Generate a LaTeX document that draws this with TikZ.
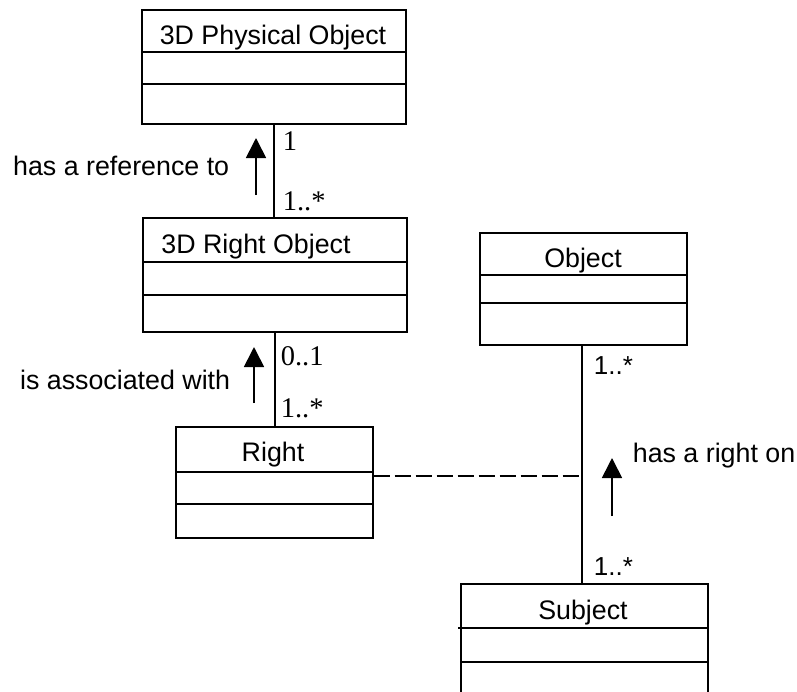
\documentclass[tikz,border=0pt]{standalone}
\usepackage{fontspec}
\setmainfont{Liberation Sans}
\newfontfamily\serifnum{Liberation Serif}
\usetikzlibrary{arrows.meta}
\begin{document}
\begin{tikzpicture}[x=1pt,y=-1pt,line width=1.7pt,
  cls/.style={draw,rectangle,inner sep=0pt,anchor=north west},
  lbl/.style={font=\fontsize{26.8}{30}\selectfont,inner sep=0pt,anchor=base},
  mult/.style={font=\serifnum\fontsize{28.5}{30}\selectfont,inner sep=0pt,anchor=base west},
  smult/.style={font=\fontsize{26}{30}\selectfont,inner sep=0pt,anchor=base west},
  dirarrow/.style={-{Triangle[length=20pt,width=20pt]},line width=1.7pt},
  assoc/.style={line width=1.7pt},
  dashassoc/.style={line width=1.7pt,dash pattern=on 16pt off 5pt}]
\clip (0,0) rectangle (797,691);
\fill[white] (0,0) rectangle (797,691);
% 3D Physical Object
\node[cls,minimum width=264pt,minimum height=114pt] (po) at (141,9) {};
\draw (141,52) -- (405,52);
\draw (141,84) -- (407,84);
\node[lbl] (potitle) at (273,44) {3D Physical Object};
% 3D Right Object
\node[cls,minimum width=264pt,minimum height=114pt] (ro) at (142,217) {};
\draw (142,262) -- (406,262);
\draw (142,295) -- (406,295);
\node[lbl] (rotitle) at (256,253) {3D Right Object};
% Right
\node[cls,minimum width=197pt,minimum height=111pt] (right) at (175,426) {};
\draw (175,472) -- (372,472);
\draw (175,504) -- (372,504);
\node[lbl] (righttitle) at (273,461) {Right};
% Object
\node[cls,minimum width=207pt,minimum height=112pt] (obj) at (479,232) {};
\draw (479,275) -- (686,275);
\draw (479,303) -- (687,303);
\node[lbl] (objtitle) at (583,267) {Object};
% Subject (cut by the lower edge)
\node[cls,minimum width=247pt,minimum height=140pt] (subj) at (460,583) {};
\draw (458,628) -- (707,628);
\draw (460,662) -- (707,662);
\node[lbl] (subjtitle) at (583,619) {Subject};
% associations
\draw[assoc] (po.south) -- (po.south |- ro.north);
\draw[assoc] (ro.south) -- (ro.south |- right.north);
\coordinate (ot) at (582,344);
\coordinate (sb) at (582,583);
\coordinate (mid) at (582,476);
\draw[assoc] (ot) -- (sb);
\draw[dashassoc] (right.east |- mid) -- (mid);
% multiplicities
\node[mult] (m1) at (282,150) {1};
\node[mult] (m2) at (282,210) {1..*};
\node[mult] (m3) at (280,365) {0..1};
\node[mult] (m4) at (280,417) {1..*};
\node[smult] (m5) at (593,374) {1..*};
\node[smult] (m6) at (593,575) {1..*};
% direction arrows and names
\coordinate (a1s) at (256,195); \coordinate (a1e) at (256,138);
\draw[dirarrow] (a1s) -- (a1e);
\coordinate (a2s) at (254,403); \coordinate (a2e) at (254,347);
\draw[dirarrow] (a2s) -- (a2e);
\coordinate (a3s) at (612,516); \coordinate (a3e) at (612,458);
\draw[dirarrow] (a3s) -- (a3e);
\node[lbl,anchor=base east] (n1) at (230,175) {has a reference to};
\node[lbl,anchor=base east] (n2) at (231,389) {is associated with};
\node[lbl,anchor=base west] (n3) at (632,462) {has a right on};
\end{tikzpicture}
\end{document}
